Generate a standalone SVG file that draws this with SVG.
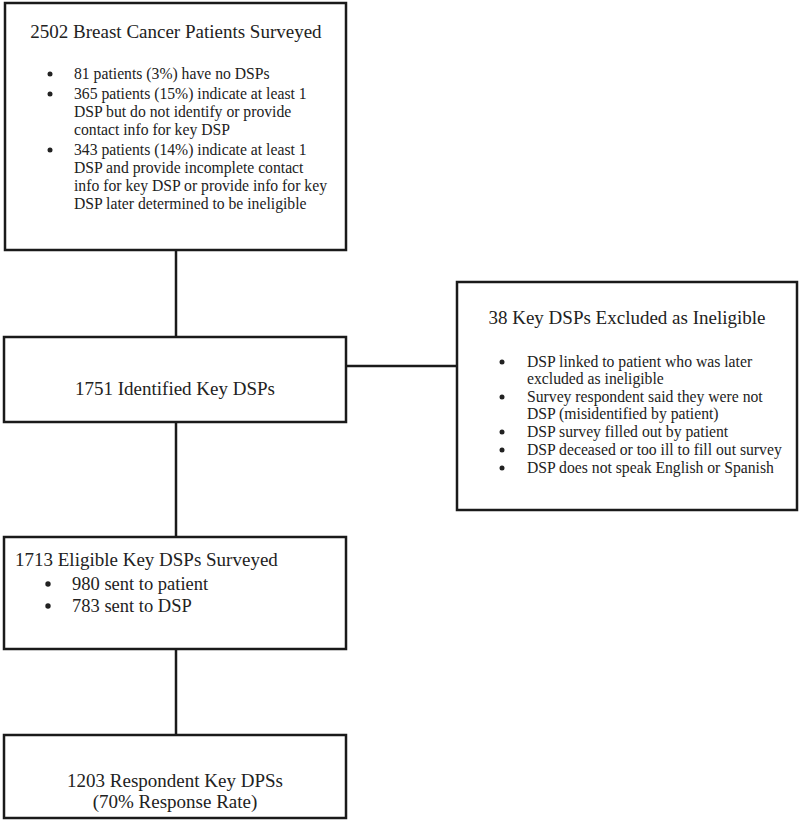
<svg xmlns="http://www.w3.org/2000/svg" width="800" height="821" viewBox="0 0 800 821" font-family="'Liberation Serif', 'Times New Roman', serif">
<style>
.box{fill:#fff;stroke:#1a1a1a;stroke-width:2.5}
.ln{stroke:#1a1a1a;stroke-width:2.5;fill:none}
.dot{fill:#222}
text{font-family:"Liberation Serif","Times New Roman",serif;fill:#222}
.t{font-size:19px}
.b{font-size:15.7px}
.b4{font-size:18.5px}
.c{text-anchor:middle}
</style>
<rect width="800" height="821" fill="#fff"/>
<g id="connectors">
<line class="ln" x1="176" y1="250" x2="176" y2="337"/>
<line class="ln" x1="176" y1="422" x2="176" y2="537"/>
<line class="ln" x1="176" y1="649" x2="176" y2="735"/>
<line class="ln" x1="346" y1="366" x2="457" y2="366"/>
</g>
<g id="n1">
<rect class="box" x="5" y="3" width="341" height="247"/>
<text class="t c" x="176" y="38">2502 Breast Cancer Patients Surveyed</text>
<g class="dot"><circle cx="50" cy="74" r="2.5"/><circle cx="50" cy="94" r="2.5"/><circle cx="50" cy="150" r="2.5"/></g>
<g class="b">
<text x="74" y="79">81 patients (3%) have no DSPs</text>
<text x="74" y="99">365 patients (15%) indicate at least 1</text>
<text x="74" y="117">DSP but do not identify or provide</text>
<text x="74" y="135">contact info for key DSP</text>
<text x="74" y="155">343 patients (14%) indicate at least 1</text>
<text x="74" y="173">DSP and provide incomplete contact</text>
<text x="74" y="191">info for key DSP or provide info for key</text>
<text x="74" y="209">DSP later determined to be ineligible</text>
</g>
</g>
<g id="n2">
<rect class="box" x="4" y="337" width="342" height="85"/>
<text class="t c" x="175" y="395">1751 Identified Key DSPs</text>
</g>
<g id="n3">
<rect class="box" x="457" y="282" width="340" height="228"/>
<text class="t c" x="627" y="324">38 Key DSPs Excluded as Ineligible</text>
<g class="dot"><circle cx="502" cy="362" r="2.5"/><circle cx="502" cy="397" r="2.5"/><circle cx="502" cy="432" r="2.5"/><circle cx="502" cy="450" r="2.5"/><circle cx="502" cy="468" r="2.5"/></g>
<g class="b">
<text x="527" y="367">DSP linked to patient who was later</text>
<text x="527" y="384">excluded as ineligible</text>
<text x="527" y="402">Survey respondent said they were not</text>
<text x="527" y="419">DSP (misidentified by patient)</text>
<text x="527" y="437">DSP survey filled out by patient</text>
<text x="527" y="455">DSP deceased or too ill to fill out survey</text>
<text x="527" y="473">DSP does not speak English or Spanish</text>
</g>
</g>
<g id="n4">
<rect class="box" x="4" y="537" width="342" height="112"/>
<text class="t" x="15" y="566">1713 Eligible Key DSPs Surveyed</text>
<g class="dot"><circle cx="48" cy="584" r="2.7"/><circle cx="48" cy="606" r="2.7"/></g>
<g class="b4">
<text x="72" y="590">980 sent to patient</text>
<text x="72" y="612">783 sent to DSP</text>
</g>
</g>
<g id="n5">
<rect class="box" x="4" y="735" width="342" height="83"/>
<text class="t c" x="175" y="787">1203 Respondent Key DPSs</text>
<text class="t c" x="175" y="808">(70% Response Rate)</text>
</g>
</svg>
